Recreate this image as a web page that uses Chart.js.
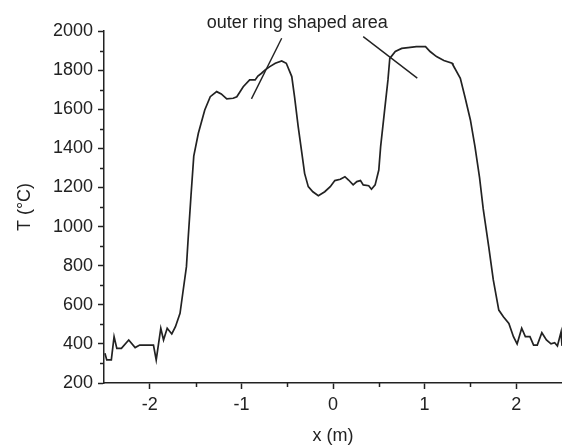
<!DOCTYPE html>
<html>
<head>
<meta charset="utf-8">
<script src="https://cdn.jsdelivr.net/npm/chart.js@4/dist/chart.umd.min.js"></script>
<style>
  html, body { margin: 0; padding: 0; background: #fff; }
  #wrap { width: 562px; height: 447px; }
</style>
</head>
<body>
<div id="wrap"><canvas id="tempChart" width="562" height="447"></canvas></div>
<script>
// position along the profile (m)
const xPos = [
    -2.49, -2.47, -2.42, -2.39, -2.36, -2.31, -2.23, -2.16, -2.11, -1.96,
    -1.93, -1.88, -1.85, -1.81, -1.76, -1.72, -1.67, -1.64, -1.60, -1.58,
    -1.55, -1.52, -1.47, -1.40, -1.34, -1.27, -1.22, -1.16, -1.09, -1.05,
    -0.98, -0.91, -0.85, -0.82, -0.78, -0.74, -0.69, -0.63, -0.56, -0.51,
    -0.45, -0.42, -0.38, -0.34, -0.31, -0.27, -0.22, -0.16, -0.09, -0.03,
    0.02, 0.08, 0.13, 0.17, 0.22, 0.26, 0.30, 0.33, 0.39, 0.42,
    0.46, 0.50, 0.52, 0.56, 0.60, 0.62, 0.68, 0.75, 0.82, 0.91,
    1.01, 1.06, 1.13, 1.21, 1.30, 1.31, 1.39, 1.44, 1.50, 1.55,
    1.60, 1.64, 1.70, 1.75, 1.81, 1.86, 1.92, 1.97, 2.01, 2.06,
    2.10, 2.15, 2.19, 2.23, 2.28, 2.33, 2.38, 2.42, 2.45, 2.49,
    2.50
];

// temperature (°C)
const temps = [
    352, 318, 318, 437, 377, 377, 420, 381, 394, 394,
    318, 480, 420, 480, 451, 488, 556, 659, 795, 948,
    1160, 1360, 1477, 1596, 1664, 1690, 1678, 1653, 1656, 1664,
    1715, 1750, 1750, 1770, 1784, 1801, 1818, 1835, 1847, 1835,
    1767, 1664, 1511, 1375, 1272, 1204, 1178, 1158, 1178, 1204,
    1235, 1242, 1255, 1238, 1213, 1230, 1235, 1213, 1209, 1191,
    1213, 1289, 1409, 1580, 1750, 1860, 1895, 1911, 1915, 1920,
    1920, 1895, 1869, 1849, 1835, 1826, 1758, 1664, 1545, 1409,
    1250, 1090, 897, 727, 573, 539, 505, 437, 400, 480,
    437, 437, 394, 394, 457, 420, 400, 406, 389, 462,
    390
];

const xTickLabels = ["-2", "-1", "0", "1", "2"];
const yTickLabels = ["200", "400", "600", "800", "1000", "1200", "1400", "1600", "1800", "2000"];

const noteText = "outer ring shaped area";
// pointer lines of the note, in data units: [x1, y1, x2, y2]
const notePointers = [
    [-0.56, 1963, -0.89, 1653],
    [0.33, 1971, 0.92, 1759]
];
const noteAnchor = [-0.39, 2016];

const ink = "#222";
const fontFamily = "'Liberation Sans', Arial, sans-serif";

const extras = {
    id: "extras",
    afterDraw(chart) {
        const ctx = chart.ctx;
        const xs = chart.scales.x;
        const ys = chart.scales.y;

        ctx.save();
        ctx.strokeStyle = ink;
        ctx.lineWidth = 1.5;

        // minor ticks
        for (let v = 300; v < 2000; v += 200) {
            const py = Math.round(ys.getPixelForValue(v)) + 0.5;
            ctx.beginPath();
            ctx.moveTo(xs.left - 4, py);
            ctx.lineTo(xs.left, py);
            ctx.stroke();
        }
        for (let v = -1.5; v < 2.5; v += 1) {
            const px = Math.round(xs.getPixelForValue(v)) + 0.5;
            ctx.beginPath();
            ctx.moveTo(px, ys.bottom);
            ctx.lineTo(px, ys.bottom + 4);
            ctx.stroke();
        }

        // note pointers
        ctx.lineWidth = 1.4;
        notePointers.forEach(p => {
            ctx.beginPath();
            ctx.moveTo(xs.getPixelForValue(p[0]), ys.getPixelForValue(p[1]));
            ctx.lineTo(xs.getPixelForValue(p[2]), ys.getPixelForValue(p[3]));
            ctx.stroke();
        });

        ctx.fillStyle = ink;
        ctx.font = "18px " + fontFamily;
        ctx.textAlign = "center";
        ctx.textBaseline = "alphabetic";
        ctx.fillText(noteText,
            xs.getPixelForValue(noteAnchor[0]),
            ys.getPixelForValue(noteAnchor[1]));
        ctx.restore();
    }
};

new Chart(document.getElementById("tempChart"), {
    type: "line",
    data: {
        datasets: [{
            data: xPos.map((x, i) => ({ x: x, y: temps[i] })),
            borderColor: ink,
            borderWidth: 1.7,
            pointRadius: 0,
            tension: 0,
            fill: false
        }]
    },
    options: {
        responsive: false,
        animation: false,
        events: [],
        layout: { padding: { top: 31, right: 0, left: 0, bottom: 0 } },
        plugins: {
            legend: { display: false },
            tooltip: { enabled: false }
        },
        scales: {
            x: {
                type: "linear",
                min: -2.5,
                max: 2.5,
                afterFit(scale) { scale.height = 64; },
                afterBuildTicks(scale) {
                    scale.ticks = xTickLabels.map(t => ({ value: Number(t) }));
                },
                grid: {
                    drawOnChartArea: false,
                    drawTicks: true,
                    tickLength: 6,
                    tickWidth: 1.5,
                    tickColor: ink
                },
                border: { display: true, color: ink, width: 1.5 },
                ticks: {
                    color: ink,
                    font: { family: fontFamily, size: 18 },
                    padding: 5,
                    maxRotation: 0,
                    callback: v => xTickLabels.includes(String(v)) ? String(v) : ""
                },
                title: {
                    display: true,
                    text: "x (m)",
                    color: ink,
                    font: { family: fontFamily, size: 18 },
                    padding: { top: 0, bottom: 0 }
                }
            },
            y: {
                type: "linear",
                min: 200,
                max: 2000,
                afterFit(scale) { scale.width = 104; },
                afterBuildTicks(scale) {
                    scale.ticks = yTickLabels.map(t => ({ value: Number(t) }));
                },
                grid: {
                    drawOnChartArea: false,
                    drawTicks: true,
                    tickLength: 6,
                    tickWidth: 1.5,
                    tickColor: ink
                },
                border: { display: true, color: ink, width: 1.5 },
                ticks: {
                    color: ink,
                    font: { family: fontFamily, size: 18 },
                    padding: 5,
                    callback: v => String(v)
                },
                title: {
                    display: true,
                    text: "T (°C)",
                    color: ink,
                    font: { family: fontFamily, size: 18 },
                    padding: { top: 14, bottom: 0 }
                }
            }
        }
    },
    plugins: [extras]
});
</script>
</body>
</html>
